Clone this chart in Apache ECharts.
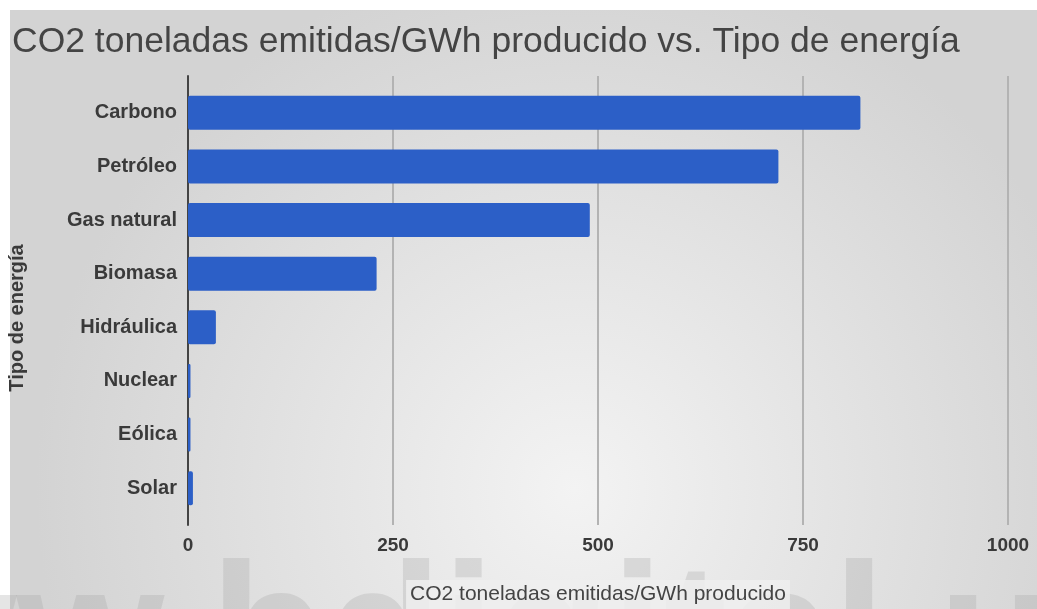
<!DOCTYPE html>
<html>
<head>
<meta charset="utf-8">
<script src="https://cdn.jsdelivr.net/npm/echarts@6/dist/echarts.min.js"></script>
<style>
html,body{margin:0;padding:0;background:#fff;}
#chart{width:1037px;height:609px;}
</style>
</head>
<body>
<div id="chart"></div>
<script>
const categories = ['Carbono', 'Petróleo', 'Gas natural', 'Biomasa', 'Hidráulica', 'Nuclear', 'Eólica', 'Solar'];
const emissions = [820, 720, 490, 230, 34, 3, 3, 6];
const xTicks = [0, 250, 500, 750, 1000];
const titleText = 'CO2 toneladas emitidas/GWh producido vs. Tipo de energía';
const xName = 'CO2 toneladas emitidas/GWh producido';
const yName = 'Tipo de energía';

const FONT = 'Liberation Sans, Arial, sans-serif';
const chart = echarts.init(document.getElementById('chart'));
chart.setOption({
  animation: false,
  backgroundColor: '#ffffff',
  title: {
    text: titleText,
    left: 7,
    top: 19,
    textStyle: { fontFamily: FONT, fontSize: 35.5, fontWeight: 'normal', color: '#444' }
  },
  graphic: [
    {
      type: 'rect', z: -10, silent: true,
      shape: { x: 10, y: 10, width: 1027, height: 599 },
      style: {
        fill: {
          type: 'radial', x: 0.55, y: 0.8, r: 0.9,
          colorStops: [{ offset: 0, color: '#f3f3f3' }, { offset: 1, color: '#d3d3d3' }]
        }
      }
    },
    {
      type: 'text', z: -5, silent: true,
      x: -279, y: 643,
      style: {
        text: 'www.bdigital.ule.es',
        font: 'bold 190px Liberation Sans, Arial, sans-serif',
        fill: 'rgba(160,160,160,0.28)',
        verticalAlign: 'middle', align: 'left'
      }
    },
    {
      type: 'text', silent: true,
      x: 17, y: 318, rotation: Math.PI / 2,
      style: {
        text: yName,
        font: 'bold 20px Liberation Sans, Arial, sans-serif',
        fill: '#3a3a3a',
        align: 'center', verticalAlign: 'middle'
      }
    }
  ],
  grid: [
    { left: 188, right: 29, top: 76, bottom: 84, outerBoundsMode: 'none', containLabel: false },
    { left: 188, right: 29, top: 86, bottom: 94, outerBoundsMode: 'none', containLabel: false }
  ],
  xAxis: [
    {
      gridIndex: 0, type: 'value', min: 0, max: 1000, interval: 250,
      axisLine: { show: false }, axisTick: { show: false },
      splitLine: { show: true, lineStyle: { color: '#b3b3b3', width: 2 } },
      axisLabel: {
        margin: 11, fontFamily: FONT, fontSize: 19, fontWeight: 'bold', color: '#3a3a3a',
        formatter: v => xTicks.includes(v) ? String(v) : ''
      },
      name: xName, nameLocation: 'middle', nameGap: 55,
      nameTextStyle: {
        fontFamily: FONT, fontSize: 21, color: '#444',
        backgroundColor: 'rgba(238,238,238,0.85)', padding: [4, 4, 4, 4]
      }
    },
    {
      gridIndex: 1, type: 'value', min: 0, max: 1000, interval: 250,
      show: false
    }
  ],
  yAxis: [
    {
      gridIndex: 0, type: 'value', min: 0, max: 1,
      axisLine: { show: true, lineStyle: { color: '#444', width: 2 } },
      axisTick: { show: false }, axisLabel: { show: false }, splitLine: { show: false }
    },
    {
      gridIndex: 1, type: 'category', data: categories, inverse: true,
      axisLine: { show: false }, axisTick: { show: false },
      axisLabel: { margin: 11, fontFamily: FONT, fontSize: 20, fontWeight: 'bold', color: '#3a3a3a' }
    }
  ],
  series: [{
    type: 'bar',
    xAxisIndex: 1, yAxisIndex: 1,
    data: emissions,
    barWidth: 34,
    itemStyle: { color: '#2c5fc7', borderRadius: 2 },
    z: 5
  }]
});
</script>
</body>
</html>
